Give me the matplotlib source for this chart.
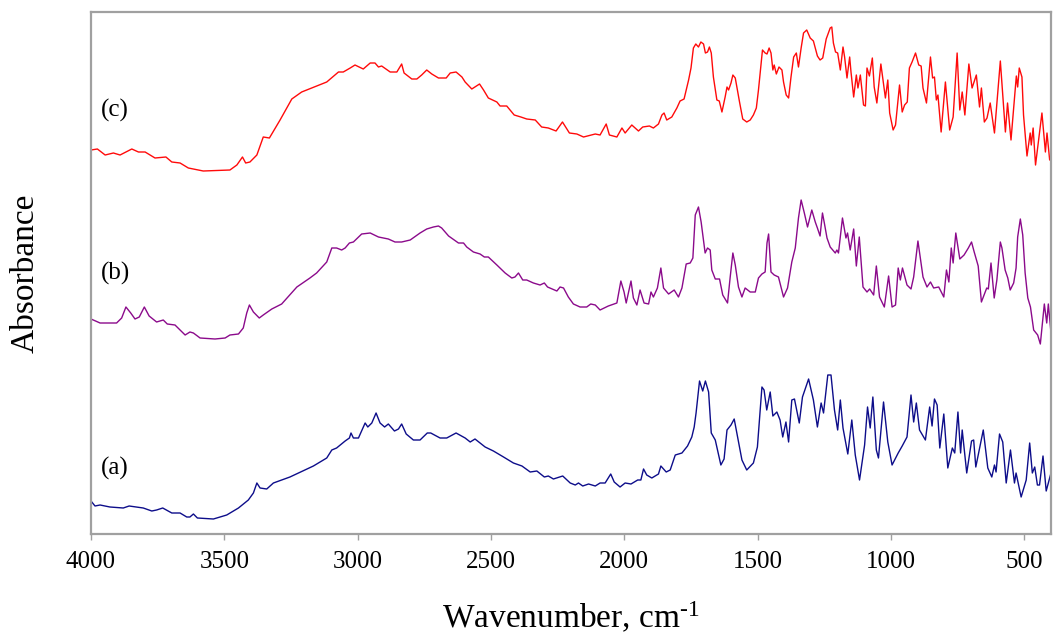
import matplotlib
matplotlib.use("Agg")
import matplotlib.pyplot as plt
import numpy as np

# ---- data: wavenumber (cm-1) and absorbance (arbitrary, stacked as shown) ----
c_wn = [4000, 3976, 3947, 3916, 3891, 3847, 3822, 3797, 3760, 3719, 3697, 3666, 3635, 3579, 3479, 3453,
        3432, 3420, 3404, 3378, 3354, 3331, 3291, 3247, 3210, 3116, 3072, 3054, 3028, 3010, 2979, 2953,
        2935, 2922, 2910, 2878, 2853, 2835, 2826, 2797, 2778, 2760, 2741, 2722, 2697, 2668, 2653, 2631,
        2609, 2597, 2572, 2543, 2528, 2510, 2478, 2466, 2441, 2413, 2388, 2366, 2334, 2310, 2285, 2256,
        2232, 2206, 2178, 2153, 2109, 2091, 2068, 2056, 2028, 2009, 1997, 1972, 1947, 1931, 1906, 1891,
        1872, 1859, 1851, 1841, 1822, 1803, 1791, 1776, 1759, 1750, 1741, 1732, 1722, 1713, 1703, 1696,
        1688, 1681, 1674, 1666, 1653, 1644, 1634, 1622, 1615, 1609, 1600, 1593, 1584, 1568, 1556, 1541,
        1528, 1516, 1505, 1497, 1482, 1472, 1465, 1457, 1450, 1443, 1438, 1430, 1420, 1409, 1403, 1393,
        1384, 1375, 1365, 1355, 1347, 1337, 1328, 1316, 1303, 1291, 1276, 1266, 1256, 1243, 1228, 1222,
        1216, 1208, 1200, 1190, 1180, 1174, 1165, 1155, 1150, 1140, 1130, 1124, 1115, 1103, 1096, 1090,
        1081, 1070, 1063, 1053, 1038, 1030, 1021, 1012, 1005, 992, 983, 968, 958, 949, 939, 931,
        921, 908, 896, 887, 880, 867, 852, 844, 837, 830, 824, 812, 796, 780, 767, 752,
        742, 733, 723, 708, 696, 680, 668, 661, 650, 640, 628, 612, 590, 571, 563, 550,
        530, 525, 519, 509, 503, 490, 478, 474, 467, 458, 434, 421, 415, 405, 400]
c_abs = [3.84, 3.85, 3.79, 3.81, 3.79, 3.85, 3.82, 3.82, 3.76, 3.77, 3.72, 3.71, 3.66, 3.63, 3.64, 3.69,
         3.77, 3.71, 3.72, 3.79, 3.97, 3.96, 4.14, 4.35, 4.42, 4.52, 4.62, 4.62, 4.66, 4.69, 4.65, 4.71,
         4.71, 4.67, 4.68, 4.62, 4.62, 4.70, 4.61, 4.55, 4.55, 4.59, 4.64, 4.60, 4.56, 4.56, 4.61, 4.62,
         4.57, 4.52, 4.45, 4.50, 4.44, 4.36, 4.32, 4.28, 4.28, 4.19, 4.17, 4.15, 4.14, 4.07, 4.06, 4.03,
         4.12, 4.01, 4.00, 3.97, 4.00, 3.99, 4.10, 3.99, 3.97, 4.06, 4.01, 4.09, 4.03, 4.07, 4.08, 4.06,
         4.10, 4.19, 4.21, 4.14, 4.17, 4.26, 4.33, 4.35, 4.54, 4.66, 4.86, 4.90, 4.87, 4.92, 4.90, 4.81,
         4.82, 4.87, 4.81, 4.57, 4.34, 4.33, 4.22, 4.37, 4.47, 4.44, 4.51, 4.59, 4.56, 4.32, 4.15, 4.12,
         4.14, 4.19, 4.26, 4.44, 4.84, 4.81, 4.80, 4.86, 4.81, 4.64, 4.69, 4.60, 4.67, 4.64, 4.52, 4.39,
         4.36, 4.57, 4.77, 4.81, 4.67, 4.86, 5.01, 5.04, 4.96, 4.93, 4.78, 4.74, 4.76, 4.95, 5.06, 5.07,
         4.91, 4.82, 4.81, 4.64, 4.87, 4.77, 4.56, 4.77, 4.62, 4.37, 4.59, 4.46, 4.59, 4.29, 4.28, 4.66,
         4.58, 4.76, 4.47, 4.31, 4.70, 4.54, 4.36, 4.54, 4.21, 4.04, 4.09, 4.49, 4.22, 4.29, 4.32, 4.66,
         4.72, 4.81, 4.69, 4.68, 4.46, 4.31, 4.77, 4.56, 4.57, 4.34, 4.39, 4.02, 4.52, 4.04, 4.17, 4.81,
         4.24, 4.42, 4.19, 4.70, 4.46, 4.59, 4.27, 4.46, 4.12, 4.16, 4.31, 4.01, 4.73, 4.02, 4.31, 3.94,
         4.58, 4.47, 4.66, 4.57, 4.19, 3.78, 4.01, 3.89, 4.06, 3.69, 4.21, 3.82, 4.01, 3.74, 3.77]

b_wn = [4000, 3966, 3904, 3885, 3869, 3851, 3835, 3819, 3800, 3782, 3754, 3729, 3714, 3685, 3666, 3647,
        3629, 3616, 3591, 3535, 3497, 3479, 3447, 3429, 3416, 3406, 3391, 3369, 3354, 3322, 3285, 3228,
        3179, 3154, 3116, 3097, 3079, 3060, 3047, 3031, 3016, 2985, 2953, 2922, 2885, 2860, 2835, 2803,
        2766, 2741, 2716, 2697, 2685, 2659, 2622, 2603, 2591, 2566, 2541, 2525, 2510, 2478, 2447, 2422,
        2410, 2397, 2381, 2366, 2341, 2316, 2300, 2288, 2253, 2241, 2228, 2210, 2191, 2166, 2141, 2126,
        2109, 2091, 2060, 2028, 2013, 2001, 1993, 1975, 1966, 1953, 1941, 1926, 1909, 1900, 1891, 1876,
        1863, 1853, 1834, 1813, 1797, 1784, 1768, 1753, 1743, 1734, 1722, 1712, 1697, 1688, 1678, 1672,
        1659, 1643, 1631, 1613, 1603, 1593, 1584, 1572, 1559, 1547, 1528, 1509, 1497, 1484, 1472, 1465,
        1459, 1450, 1438, 1422, 1403, 1388, 1372, 1359, 1347, 1337, 1325, 1313, 1297, 1284, 1276, 1266,
        1257, 1250, 1240, 1228, 1209, 1203, 1197, 1182, 1169, 1163, 1153, 1140, 1130, 1119, 1105, 1090,
        1080, 1065, 1055, 1043, 1025, 1009, 996, 983, 973, 965, 957, 940, 925, 915, 899, 880,
        865, 852, 840, 821, 802, 792, 783, 774, 767, 757, 742, 726, 710, 698, 688, 673,
        661, 641, 635, 625, 613, 603, 590, 584, 572, 562, 553, 540, 531, 525, 515, 506,
        497, 487, 477, 465, 450, 440, 425, 416, 410, 400]
b_abs = [2.15, 2.11, 2.11, 2.16, 2.27, 2.21, 2.15, 2.17, 2.27, 2.18, 2.12, 2.14, 2.10, 2.09, 2.04, 1.99,
         2.02, 2.01, 1.96, 1.95, 1.96, 1.99, 2.00, 2.06, 2.21, 2.29, 2.22, 2.16, 2.19, 2.25, 2.30, 2.47,
         2.56, 2.61, 2.72, 2.86, 2.86, 2.84, 2.86, 2.91, 2.92, 3.00, 3.01, 2.97, 2.95, 2.92, 2.92, 2.94,
         3.01, 3.05, 3.07, 3.08, 3.06, 2.98, 2.91, 2.91, 2.87, 2.82, 2.80, 2.77, 2.77, 2.69, 2.61, 2.56,
         2.57, 2.61, 2.54, 2.54, 2.51, 2.49, 2.51, 2.47, 2.43, 2.47, 2.46, 2.37, 2.30, 2.27, 2.27, 2.30,
         2.29, 2.24, 2.28, 2.31, 2.53, 2.42, 2.31, 2.53, 2.36, 2.29, 2.44, 2.31, 2.30, 2.42, 2.37, 2.46,
         2.66, 2.46, 2.40, 2.44, 2.37, 2.46, 2.70, 2.71, 2.76, 3.19, 3.27, 3.12, 2.81, 2.86, 2.84, 2.64,
         2.55, 2.55, 2.39, 2.31, 2.57, 2.81, 2.69, 2.47, 2.37, 2.46, 2.42, 2.42, 2.56, 2.60, 2.62, 2.91,
         3.00, 2.62, 2.59, 2.57, 2.37, 2.46, 2.72, 2.86, 3.16, 3.34, 3.21, 3.07, 3.24, 3.12, 3.06, 2.98,
         3.21, 3.11, 2.96, 2.87, 2.81, 2.84, 2.81, 3.16, 2.96, 3.01, 2.84, 3.05, 2.68, 2.97, 2.47, 2.42,
         2.45, 2.39, 2.68, 2.37, 2.27, 2.58, 2.27, 2.29, 2.66, 2.54, 2.66, 2.49, 2.45, 2.57, 2.93, 2.57,
         2.47, 2.52, 2.46, 2.47, 2.37, 2.64, 2.52, 2.86, 2.71, 3.01, 2.75, 2.79, 2.86, 2.92, 2.82, 2.68,
         2.32, 2.46, 2.45, 2.71, 2.36, 2.54, 2.92, 2.86, 2.64, 2.56, 2.44, 2.51, 2.66, 2.97, 3.15, 2.99,
         2.61, 2.36, 2.27, 2.04, 1.99, 1.90, 2.30, 2.11, 2.30, 2.01]

a_wn = [4000, 3985, 3966, 3929, 3879, 3857, 3804, 3772, 3754, 3731, 3697, 3666, 3641, 3629, 3616, 3601,
        3541, 3491, 3447, 3410, 3391, 3378, 3366, 3341, 3316, 3254, 3166, 3116, 3097, 3079, 3047, 3031,
        3025, 3016, 2997, 2972, 2962, 2947, 2931, 2916, 2899, 2885, 2862, 2847, 2835, 2818, 2791, 2766,
        2739, 2726, 2691, 2666, 2631, 2597, 2578, 2560, 2522, 2491, 2453, 2416, 2384, 2353, 2328, 2300,
        2285, 2266, 2231, 2203, 2184, 2172, 2156, 2134, 2109, 2091, 2072, 2051, 2038, 2016, 1997, 1975,
        1950, 1938, 1928, 1916, 1897, 1872, 1863, 1843, 1828, 1809, 1784, 1763, 1747, 1738, 1731, 1718,
        1706, 1696, 1684, 1674, 1659, 1638, 1626, 1615, 1600, 1588, 1578, 1559, 1541, 1516, 1501, 1484,
        1476, 1466, 1453, 1443, 1428, 1416, 1406, 1394, 1384, 1372, 1362, 1344, 1332, 1309, 1291, 1276,
        1262, 1253, 1237, 1225, 1212, 1200, 1190, 1180, 1162, 1147, 1134, 1118, 1099, 1088, 1078, 1068,
        1055, 1047, 1028, 1012, 996, 973, 958, 940, 925, 915, 905, 893, 871, 855, 846, 837,
        827, 817, 802, 787, 770, 761, 749, 739, 733, 716, 698, 690, 682, 673, 654, 637,
        622, 612, 606, 593, 581, 568, 552, 537, 531, 512, 493, 480, 470, 461, 451, 443,
        430, 418, 406, 400]
a_abs = [0.33, 0.28, 0.29, 0.27, 0.26, 0.28, 0.26, 0.23, 0.24, 0.26, 0.21, 0.21, 0.17, 0.17, 0.20, 0.16,
         0.15, 0.19, 0.26, 0.34, 0.41, 0.51, 0.46, 0.45, 0.51, 0.57, 0.68, 0.76, 0.84, 0.86, 0.93, 0.96,
         1.01, 0.96, 0.96, 1.11, 1.07, 1.11, 1.21, 1.11, 1.07, 1.10, 1.03, 1.05, 1.10, 1.00, 0.94, 0.94,
         1.01, 1.01, 0.96, 0.96, 1.01, 0.96, 0.92, 0.95, 0.87, 0.83, 0.77, 0.71, 0.68, 0.62, 0.63, 0.57,
         0.58, 0.55, 0.58, 0.51, 0.49, 0.51, 0.48, 0.50, 0.48, 0.51, 0.51, 0.60, 0.52, 0.47, 0.51, 0.50,
         0.54, 0.54, 0.65, 0.59, 0.56, 0.60, 0.68, 0.62, 0.64, 0.79, 0.81, 0.88, 0.97, 1.07, 1.21, 1.53,
         1.43, 1.53, 1.42, 1.01, 0.94, 0.69, 0.75, 1.04, 1.09, 1.15, 1.01, 0.74, 0.64, 0.71, 0.87, 1.47,
         1.44, 1.24, 1.42, 1.18, 1.22, 1.14, 0.97, 1.12, 0.92, 1.34, 1.35, 1.11, 1.37, 1.55, 1.34, 1.07,
         1.31, 1.21, 1.59, 1.59, 1.24, 1.04, 1.34, 1.06, 0.80, 1.14, 0.79, 0.54, 0.89, 1.27, 1.06, 1.37,
         0.84, 0.76, 1.32, 0.92, 0.69, 0.81, 0.88, 0.97, 1.39, 1.12, 1.31, 1.04, 0.94, 1.27, 1.08, 1.35,
         1.29, 0.86, 1.20, 0.66, 0.86, 0.81, 1.22, 0.81, 1.04, 0.61, 0.93, 0.94, 0.67, 0.79, 1.04, 0.66,
         0.57, 0.69, 0.62, 1.00, 0.92, 0.51, 0.84, 0.51, 0.61, 0.37, 0.54, 0.91, 0.61, 0.67, 0.49, 0.49,
         0.78, 0.43, 0.55, 0.61]

curve_labels = ["(a)", "(b)", "(c)"]
label_y = [0.66, 2.61, 4.24]
x_ticks = [4000, 3500, 3000, 2500, 2000, 1500, 1000, 500]

# ---- style ----
plt.rcParams['font.family'] = ['Liberation Serif', 'DejaVu Serif']
plt.rcParams['mathtext.fontset'] = 'custom'
plt.rcParams['mathtext.rm'] = 'Liberation Serif'
plt.rcParams['mathtext.it'] = 'Liberation Serif:italic'

fig = plt.figure(figsize=(10.6, 6.36), dpi=100)
ax = fig.add_axes([91/1060, 102/636, 960/1060, 522/636])

ax.plot(a_wn, a_abs, color='#0d0d8a', lw=1.0)
ax.plot(b_wn, b_abs, color='#8b0a8b', lw=1.0)
ax.plot(c_wn, c_abs, color='#ff0a0a', lw=1.0)

for lab, yy in zip(curve_labels, label_y):
    ax.text(3962, yy, lab, fontsize=18, ha='left', va='center')

ax.set_xlim(4000, 400)
ax.set_ylim(0, 5.22)
ax.set_xticks(x_ticks)
ax.set_xticklabels([str(t) for t in x_ticks])
ax.set_yticks([])

for s in ax.spines.values():
    s.set_color('#a0a0a0')
    s.set_linewidth(1.6)
ax.tick_params(axis='x', direction='out', length=4, width=1, color='#a0a0a0',
               labelsize=18, pad=8)
ax.set_xlabel(r'Wavenumber, cm$^{\text{-}1}$', fontsize=24, labelpad=20)
ax.set_ylabel('Absorbance', fontsize=24, labelpad=36)

fig.savefig('out.png', dpi=100)
